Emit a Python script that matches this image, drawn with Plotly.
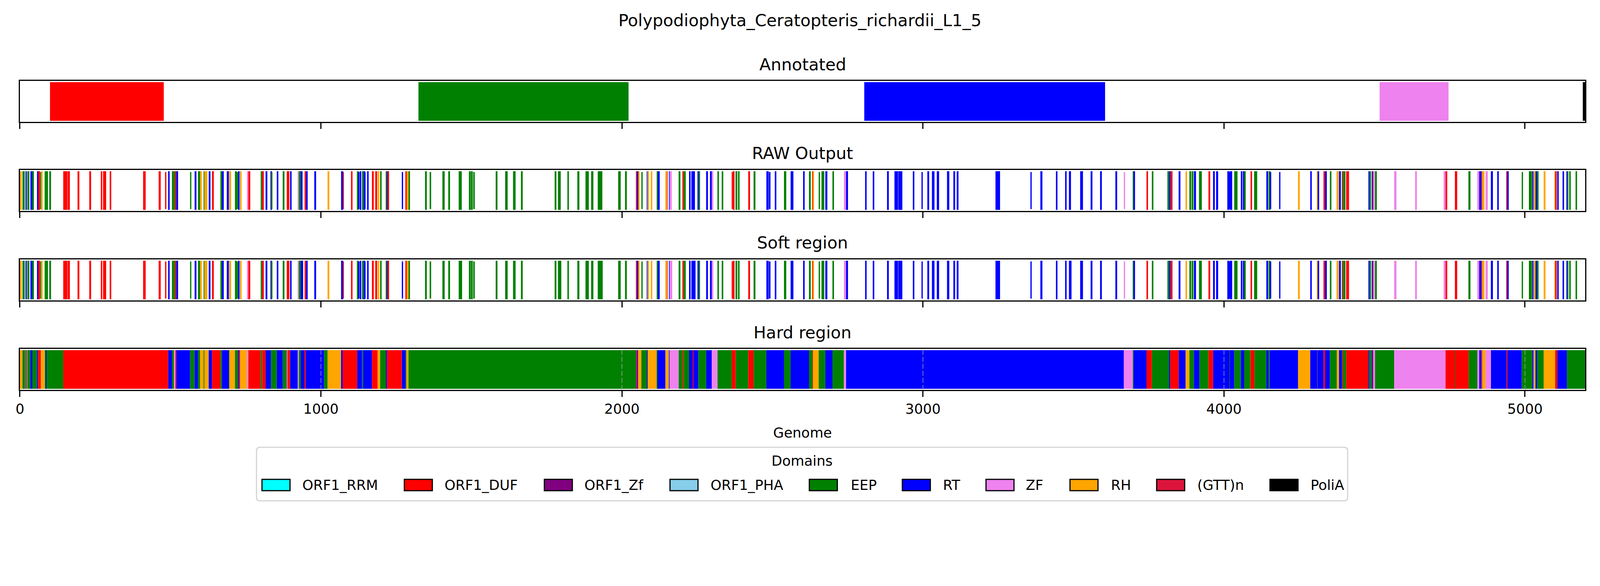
import plotly.graph_objects as go

FIG_TITLE = "Polypodiophyta_Ceratopteris_richardii_L1_5"
PANEL_TITLES = ["Annotated", "RAW Output", "Soft region", "Hard region"]
X_TICKS = [0, 1000, 2000, 3000, 4000, 5000]
X_LABEL = "Genome"
LEGEND_TITLE = "Domains"
DOMAIN_NAMES = ["ORF1_RRM", "ORF1_DUF", "ORF1_Zf", "ORF1_PHA", "EEP", "RT", "ZF", "RH", "(GTT)n", "PoliA"]
DOMAIN_COLORS = ["#00FFFF", "#FF0000", "#800080", "#87CEEB", "#008000", "#0000FF", "#EE82EE", "#FFA500", "#DC143C", "#000000"]

ANNOTATED = {"ORF1_DUF": [(100, 478)], "EEP": [(1324, 2022)], "RT": [(2805, 3605)], "ZF": [(4517, 4746)], "PoliA": [(5192, 5200)]}

RAW_DUF = [(61,67),(144,157.6),(158.5,166),(191.5,197.5),(230.5,236.5),(268.7,273.7),(276.3,286.5),(298.3,303.4),(409.3,417.8),(461,467.8),(515.3,519.5),(638.2,644.1),(758.5,765.3),(804.3,810.2),(886.5,895),(945.8,950.9),(1100,1105),(1169.5,1175.5),(1180.6,1186.5),(1220.4,1226.3),(1280.6,1284.8),(2047.6,2050.1),(2150.1,2151.8),(2201,2205.2),(2368,2373.9),(2419.6,2425.5),(2632.4,2634.1),(3742.6,3747.7),(3822.3,3829),(3948.4,3954.3),(4088.3,4093.3),(4330.6,4335.7),(4395.9,4399.3),(4406,4415.4),(4494.2,4495.9),(4735.7,4741.7),(4767.1,4774.7),(4855.2,4857.8),(4938.3,4940.8),(5100.2,5105.3)]
RAW_DUF_THIN = [(482.2,486.5),(1073,1076.3),(2364.6,2368)]
RAW_EEP = [(8.5,16),(24.6,31.4),(41.5,46.6),(82.2,86.5),(86.5,93.2),(97.5,103.4),(505.1,511.9),(511.9,515.3),(591.6,598.3),(610.2,612.8),(666.1,671.2),(714.4,720.4),(800,804.3),(873,878.9),(926.3,933.1),(1119.5,1125.5),(1136.5,1141.6),(1196.7,1201.7),(1215.3,1218.7),(1290.8,1295.9),(1345.9,1351.8),(1403.5,1411.1),(1423,1428.9),(1457.7,1467.9),(1491.6,1497.6),(1498.4,1504.3),(1580.6,1586.5),(1612,1620.4),(1638.2,1646.7),(1664.5,1670.4),(1776.4,1782.3),(1787.4,1796.7),(1818.8,1823.8),(1851.8,1858.6),(1878.9,1890),(1897.6,1905.2),(1919.6,1934.9),(1987.4,1995.9),(2010.3,2016.2),(2115.4,2118.8),(2188.3,2194.2),(2205.2,2212),(2255.2,2259.5),(2317.1,2322.2),(2331.5,2336.6),(2377.3,2383.2),(2385.7,2390.8),(2437.4,2443.4),(2538.3,2545.9),(2621.4,2627.3),(2662.9,2672.2),(2699.3,2704.4),(3696.8,3699.4),(3760.4,3765.5),(3812.1,3818),(3885,3890.9),(3892.6,3898.5),(3917,3926.4),(4034,4045),(4067,4072.2),(4100.1,4110.3),(4148.4,4154.4),(4351.8,4356.9),(4391.7,4395.9),(4399.3,4403.5),(4483.2,4488.3),(4501.8,4507.8),(4812,4818.8),(5012.9,5023),(5040,5045.1),(5140.9,5144.2),(5146.8,5151.9),(5168,5173)]
RAW_EEP_THIN = [(68.7,70.3),(565.3,569.5),(720.4,724.6),(834.8,839),(1361.1,1366.2),(1506,1511.1),(2064.5,2068.8),(2653.6,2657.8),(4989.1,4993.4)]
RAW_RT = [(18.6,22.9),(34.8,41.5),(56.8,61),(492.4,497.5),(519.5,525.5),(580.5,586.5),(627.2,633.1),(671.2,677.2),(687.3,694.1),(724.6,729.7),(816.1,822),(832.3,837.3),(853.4,858.5),(897.5,902.6),(933.1,939),(950.9,956),(978,984),(1067,1073.8),(1128.9,1134),(1141.6,1146.7),(1153.5,1158.5),(1218.7,1220.4),(2050.1,2054.4),(2082.3,2084.9),(2118.8,2125.5),(2156,2158.6),(2223,2228.1),(2230.6,2242.5),(2251,2255.2),(2279.8,2285.7),(2292.5,2298.4),(2479.8,2487.4),(2507.8,2512.9),(2560.3,2569.6),(2601.9,2607),(2675.6,2682.4),(2744.3,2751),(2807.8,2812.9),(2833.2,2838.3),(2880.7,2886.6),(2905.3,2917.1),(2918,2931.5),(2966.3,2971.4),(3014.6,3020.5),(3029.8,3038.3),(3046,3053.6),(3079.9,3087.5),(3101,3107),(3112.1,3118),(3240.9,3256.1),(3390,3396.8),(3441.7,3446.8),(3472.2,3477.3),(3484.9,3491.7),(3522.2,3531.6),(3557,3563),(3588.4,3594.3),(3639.2,3645.2),(3699.4,3704.5),(3818,3822.3),(3849.4,3855.3),(3900.2,3907),(3963.7,3969.6),(3973.8,3979.8),(4011.1,4017.9),(4019.6,4027.2),(4056,4061.1),(4062.8,4067),(4140.8,4146.7),(4286.6,4291.7),(4311.1,4316.2),(4335.7,4341.7),(4382.3,4388.3),(4479.8,4483.2),(4490.8,4494.2),(4847.6,4855.2),(4886.6,4893.4),(4907.8,4912.9),(4940.8,4945.9),(5023.9,5028.1),(5034.9,5040),(5107,5112),(5124.8,5129.8),(5137.5,5140.9)]
RAW_RT_THIN = [(1123.8,1128),(1144,1148.4),(1268.7,1273),(2488.3,2493.4),(2995.1,2999.3),(3357,3361.2),(3978,3980.6),(4017.9,4019.6),(4152.7,4156.9),(4183.2,4187.4)]
RAW_ZF = [(754.3,758.5),(923.8,926.3),(2158.6,2165.4),(2298.4,2303.5),(2737.5,2744.3),(4495.9,4501),(4565.4,4573),(4634.9,4640.8),(4729.8,4735.7),(4841.7,4847.6),(4868.8,4876.4)]
RAW_ZF_THIN = [(3667.2,3671.4)]
RAW_RH = [(0,6),(70.3,75.4),(598.3,604.3),(612.8,622.9),(694.9,701.7),(730.6,736.5),(1022,1028),(1188.2,1194.1),(1284.8,1290.8),(2054.4,2058.6),(2084.9,2090),(2095.9,2101),(2144.2,2150.1),(2634.1,2638.3),(3872.3,3877.4),(4245.9,4251.8),(4309.5,4311.1),(4373.9,4381.5),(4857.8,4865.4),(5028.1,5034.9),(5062,5068),(5097.6,5100.2)]

# Places where the soft region runs a little longer than the raw output
SOFT_EXTRA_EEP = [(933,935),(1467,1469),(1934,1936),(1796,1798)]
SOFT_EXTRA_RT = [(2242,2244.5),(3491,3493.5),(939,941)]
SOFT_EXTRA_ZF = [(2165,2166.5)]

# Hard region: consecutive segments written as (domain code, end position)
HARD_SEGMENTS = [
 ("O",8.5),("E",17),("O",19),("R",22),("O",24.6),("E",34.8),("R",41.5),("E",56.8),("R",60.2),("D",69.5),("O",83),("E",86.5),("R",88),("E",144),
 ("D",492.4),("R",505.1),("E",511.9),("Z",516.2),("D",519.5),("R",565.3),("E",580.5),("R",591.6),("E",598.3),("O",610.2),("E",612.8),("O",627.2),
 ("R",638.2),("D",666.1),("E",671.2),("R",694.1),("E",695.8),("O",714.4),("E",724.6),("R",728),("D",731.4),("O",754.3),("Z",758.5),("D",800),
 ("E",805.2),("D",816.1),("R",833.9),("E",853.4),("R",873),("E",887.3),("Z",889),("D",897.5),("R",923.8),("Z",926.3),("E",933.1),("R",945.8),
 ("D",950),("R",1010.2),("E",1022),("O",1067),("R",1072.1),("D",1120.3),("R",1136.5),("E",1139.9),("R",1169.5),("D",1188.2),("O",1196.7),("E",1217),
 ("R",1219.5),("D",1268.7),("R",1281.4),("E",1284),("O",1290.8),("E",2047.6),("D",2050.1),("R",2053.5),("O",2064.5),("E",2083),("R",2084.9),
 ("O",2115.4),("E",2117.9),("R",2144.2),("O",2156),("R",2158.6),("Z",2188.3),("E",2201.9),("D",2205.2),("E",2223),("R",2235.7),("D",2237.4),
 ("R",2253.5),("E",2279.8),("R",2298.4),("Z",2317.1),("E",2364.6),("D",2378.1),("E",2419.6),("D",2437.4),("E",2479.8),("R",2538.3),("E",2560.3),
 ("R",2621.4),("E",2633.2),("D",2634.1),("O",2653.6),("E",2675.6),("R",2699.3),("E",2737.5),("Z",2744.3),("R",3667.2),("Z",3696.8),("E",3699.4),
 ("R",3742.6),("D",3760.4),("E",3818.9),("R",3821.4),("D",3849.4),("R",3872.3),("O",3885),("E",3900.2),("R",3918),("E",3948.4),("D",3963.7),
 ("R",4017.9),("E",4019.6),("R",4034),("E",4056),("R",4067),("E",4088.3),("D",4101),("E",4140.8),("R",4148.4),("E",4151.8),("R",4245.9),("O",4286.6),
 ("R",4309.5),("O",4310.3),("R",4330.6),("D",4335.7),("R",4351.8),("E",4374.7),("O",4382.3),("R",4391.7),("E",4395.9),("D",4397.6),("E",4406),
 ("D",4479.8),("R",4482.4),("E",4490.8),("R",4494.2),("D",4495.9),("Z",4501.8),("E",4565.4),("Z",4735.7),("D",4767.1),("E",4768.8),("D",4812.9),
 ("E",4841.7),("Z",4847.6),("R",4855.2),("D",4857.8),("O",4868.8),("Z",4886.6),("R",4938.3),("D",4940.8),("R",4989.1),("E",5023.9),("R",5028.1),
 ("O",5034.9),("R",5040),("E",5062),("O",5100.2),("D",5107),("R",5139.2),("E",5200),
]
CODE_TO_DOMAIN = {"D": "ORF1_DUF", "E": "EEP", "R": "RT", "Z": "ZF", "O": "RH"}

# The browser viewport measures 4096x1500 and the page body has an 8 px margin.
VIEW_W, REF_W, PAGE_MARGIN = 4096, 4800, 8
W, H = VIEW_W - 2 * PAGE_MARGIN, 1500 - 2 * PAGE_MARGIN
SX = VIEW_W / REF_W
AX_L, AX_R = 59.7, 4755.6
PANEL_TOPS = [207.3, 435.3, 664.3, 893.3]
PANEL_H = 105.0
SPINE = 3.0
TICK_PX = 35.6
TITLE_PX = 42.7

def fx(p):
    return (p * SX - PAGE_MARGIN) / W
def fy(p):
    return 1 - (p - PAGE_MARGIN) / H

color_of = dict(zip(DOMAIN_NAMES, DOMAIN_COLORS))
fig = go.Figure()

def add_bars(spans, domain, panel, thin=False):
    if not spans:
        return
    axis = "" if panel == 1 else str(panel)
    fig.add_trace(go.Bar(
        x=[(a + b) / 2 for a, b in spans],
        y=[0.96 if thin else 1.0] * len(spans),
        base=[0.02 if thin else 0.0] * len(spans),
        width=[b - a for a, b in spans],
        marker=dict(color=color_of[domain], line=dict(width=0)),
        name=domain, showlegend=False, hoverinfo="x+name",
        xaxis="x" + axis, yaxis="y" + axis))

for dom, spans in ANNOTATED.items():
    add_bars(spans, dom, 1)

RAW_FULL = [("ORF1_DUF", RAW_DUF), ("EEP", RAW_EEP), ("RT", RAW_RT), ("ZF", RAW_ZF), ("RH", RAW_RH)]
RAW_THIN = [("ORF1_DUF", RAW_DUF_THIN), ("EEP", RAW_EEP_THIN), ("RT", RAW_RT_THIN), ("ZF", RAW_ZF_THIN)]
SOFT_EXTRA = {"EEP": SOFT_EXTRA_EEP, "RT": SOFT_EXTRA_RT, "ZF": SOFT_EXTRA_ZF}

for dom, spans in RAW_FULL:
    add_bars(spans, dom, 2)
    add_bars(spans + SOFT_EXTRA.get(dom, []), dom, 3)
for dom, spans in RAW_THIN:
    add_bars(spans, dom, 2, thin=True)
    add_bars(spans, dom, 3, thin=True)

hard = {}
start = 0
for code, end in HARD_SEGMENTS:
    hard.setdefault(CODE_TO_DOMAIN[code], []).append((start, end))
    start = end
for dom, spans in hard.items():
    add_bars(spans, dom, 4)

# Dashed grid of the hard panel, above the bars
grid_x, grid_y = [], []
for t in X_TICKS[1:]:
    grid_x += [t, t, None]
    grid_y += [-0.03, 1.03, None]
fig.add_trace(go.Scatter(x=grid_x, y=grid_y, mode="lines", showlegend=False, hoverinfo="skip",
                         line=dict(color="rgba(176,176,176,0.6)", width=2.2, dash="13px,5px"),
                         xaxis="x4", yaxis="y4"))

layout = dict(
    width=W, height=H, margin=dict(l=0, r=0, t=0, b=0), autosize=False,
    paper_bgcolor="white", plot_bgcolor="white", barmode="overlay", showlegend=False,
    font=dict(family="DejaVu Sans", color="black", size=TICK_PX),
)
for i, top in enumerate(PANEL_TOPS, start=1):
    s = "" if i == 1 else str(i)
    layout["xaxis" + s] = dict(
        domain=[fx(AX_L), fx(AX_R)], range=[0, 5200], anchor="y" + s,
        tickmode="array", tickvals=X_TICKS, ticktext=[str(t) for t in X_TICKS],
        ticks="outside", ticklen=15, tickwidth=SPINE, tickcolor="black",
        showticklabels=i == 4, tickfont=dict(family="DejaVu Sans", size=TICK_PX, color="black"),
        showline=True, linecolor="black", linewidth=SPINE, mirror=True, showgrid=False, zeroline=False,
        automargin=False,
    )
    layout["yaxis" + s] = dict(
        domain=[fy(top + PANEL_H), fy(top)], range=[-0.03, 1.03], anchor="x" + s,
        showticklabels=False, ticks="", showline=True, linecolor="black", linewidth=SPINE,
        mirror=True, showgrid=False, zeroline=False, automargin=False,
    )
layout["xaxis4"]["title"] = dict(text=X_LABEL, standoff=30, font=dict(family="DejaVu Sans", size=TICK_PX, color="black"))

annotations = []
def text(t, x, y, size, anchor="center"):
    annotations.append(dict(text=t, x=fx(x), y=fy(y), xref="paper", yref="paper", showarrow=False,
                            xanchor=anchor, yanchor="middle", align=anchor,
                            font=dict(family="DejaVu Sans", size=size, color="black")))

mid_x = (AX_L + AX_R) / 2
text(FIG_TITLE, 2400, 52, TITLE_PX)
for name, y in zip(PANEL_TITLES, [165, 392, 621, 851]):
    text(name, mid_x, y, TITLE_PX)

# Legend frame, swatches and labels
shapes = []
LG_L, LG_R, LG_T, LG_B, RAD = 769.5, 4043, 1145, 1282, 10
frame = (f"M {fx(LG_L+RAD)} {fy(LG_T)} L {fx(LG_R-RAD)} {fy(LG_T)} Q {fx(LG_R)} {fy(LG_T)} {fx(LG_R)} {fy(LG_T+RAD)} "
         f"L {fx(LG_R)} {fy(LG_B-RAD)} Q {fx(LG_R)} {fy(LG_B)} {fx(LG_R-RAD)} {fy(LG_B)} "
         f"L {fx(LG_L+RAD)} {fy(LG_B)} Q {fx(LG_L)} {fy(LG_B)} {fx(LG_L)} {fy(LG_B-RAD)} "
         f"L {fx(LG_L)} {fy(LG_T+RAD)} Q {fx(LG_L)} {fy(LG_T)} {fx(LG_L+RAD)} {fy(LG_T)} Z")
shapes.append(dict(type="path", path=frame, xref="paper", yref="paper", fillcolor="white",
                   line=dict(color="#D5D5D5", width=3), layer="below"))
SWATCH_LEFT = [786, 1213, 1633, 2010, 2428, 2707, 2958, 3210, 3470, 3810]
TEXT_LEFT = [905, 1331, 1751, 2129, 2550, 2826, 3075, 3330, 3589, 3929]
for name, col, sl, tl in zip(DOMAIN_NAMES, DOMAIN_COLORS, SWATCH_LEFT, TEXT_LEFT):
    shapes.append(dict(type="rect", xref="paper", yref="paper", x0=fx(sl), x1=fx(sl + 84),
                       y0=fy(1256), y1=fy(1227), fillcolor=col, line=dict(color="black", width=3)))
    text(name, tl, 1241, TICK_PX, anchor="left")
text(LEGEND_TITLE, 2407, 1179, TICK_PX)

layout["annotations"] = annotations
layout["shapes"] = shapes
fig.update_layout(**layout)
fig.write_html("out.html")
